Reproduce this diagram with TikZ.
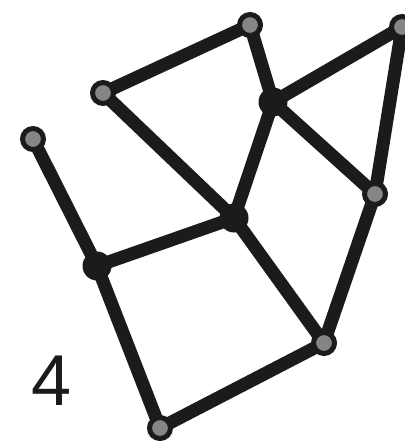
\documentclass[tikz,border=0pt]{standalone}
\usepackage{fontspec}
\setmainfont{Liberation Sans}
\definecolor{edgec}{HTML}{1B1B1B}
\definecolor{greyc}{HTML}{858585}
\begin{document}
\begin{tikzpicture}[x=1pt,y=-1pt,
  gnode/.style={circle,draw=edgec,fill=greyc,line width=5pt,minimum size=21pt,inner sep=0pt},
  bnode/.style={circle,fill=edgec,minimum size=29pt,inner sep=0pt},
  edge/.style={draw=edgec,line width=13pt}]
\useasboundingbox (0,0) rectangle (404,441);
\coordinate (A) at (250,25);
\coordinate (B) at (103,93);
\coordinate (C) at (33,139);
\coordinate (D) at (273,102);
\coordinate (E) at (402,27);
\coordinate (F) at (375,194);
\coordinate (G) at (234,218);
\coordinate (H) at (97,266);
\coordinate (I) at (324,343);
\coordinate (J) at (160,428);
\path[edge] (C)--(H) (H)--(G) (H)--(J) (J)--(I) (I)--(G) (I)--(F) (F)--(E) (F)--(D) (E)--(D) (D)--(A) (A)--(B) (B)--(G) (G)--(D);
\node[bnode] (nD) at (D) {};
\node[bnode] (nG) at (G) {};
\node[bnode] (nH) at (H) {};
\node[gnode] (nA) at (A) {};
\node[gnode] (nB) at (B) {};
\node[gnode] (nC) at (C) {};
\node[gnode] (nE) at (E) {};
\node[gnode] (nF) at (F) {};
\node[gnode] (nI) at (I) {};
\node[gnode] (nJ) at (J) {};
\node[text=edgec,font=\fontsize{72}{72}\selectfont,inner sep=0pt] (lab) at (52,381) {4};
\end{tikzpicture}
\end{document}
